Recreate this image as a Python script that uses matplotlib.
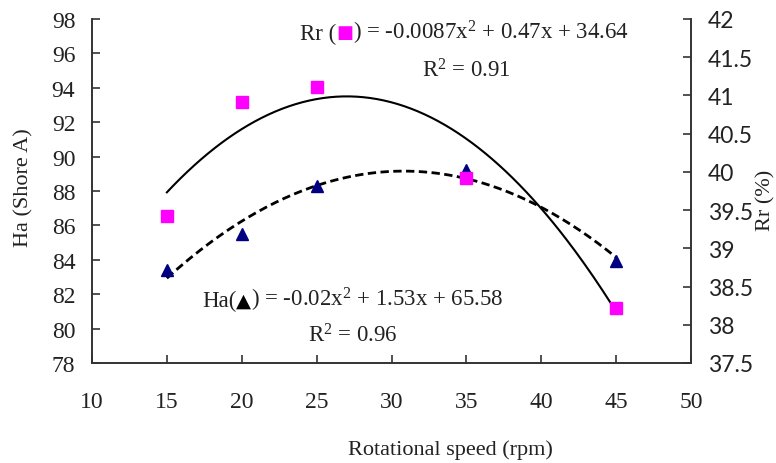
import numpy as np
import matplotlib
matplotlib.use("Agg")
import matplotlib.pyplot as plt
from matplotlib.transforms import offset_copy

# Rotational speed (rpm)
speed = [15, 20, 25, 35, 45]
# Hardness, Shore A (left axis)
ha = [83.4, 85.5, 88.3, 89.2, 83.95]
# Recovery ratio, % (right axis)
rr = [39.42, 40.91, 41.11, 39.92, 38.22]

# Quadratic trend for Rr as stated on the chart
rr_coef = [-0.0087, 0.47, 34.64]

xticks = [10, 15, 20, 25, 30, 35, 40, 45, 50]
ha_ticks = [78, 80, 82, 84, 86, 88, 90, 92, 94, 96, 98]
rr_ticks = [37.5, 38, 38.5, 39, 39.5, 40, 40.5, 41, 41.5, 42]
rr_ticklabels = ["37.5", "38", "38.5", "39", "39.5", "40", "40.5", "41", "41.5", "42"]

serif = ["Liberation Serif", "DejaVu Serif"]
plt.rcParams["font.family"] = serif
plt.rcParams["mathtext.fontset"] = "custom"
plt.rcParams["mathtext.rm"] = "Liberation Serif"
plt.rcParams["mathtext.it"] = "Liberation Serif:italic"
plt.rcParams["mathtext.bf"] = "Liberation Serif:bold"

TXT = "#222222"
W, H = 776, 464

fig = plt.figure(figsize=(W / 100, H / 100), dpi=100)
ax = fig.add_axes([92 / W, 1 - 364 / H, (691 - 92) / W, (364 - 20) / H])
ax2 = ax.twinx()

xs = np.linspace(15, 45, 200)

# Ha: fitted quadratic trend, dashed
ha_fit = np.polyfit(speed, ha, 2)
ax.plot(xs, np.polyval(ha_fit, xs), color="black", lw=2.0, ls=(0, (3.0, 1.6)), zorder=2)
ax.plot(speed, ha, ls="none", marker="^", ms=9, color="#000080", zorder=3)

# Rr: quadratic trend, solid
ax2.plot(xs, np.polyval(rr_coef, xs), color="black", lw=1.5, zorder=2)
ax2.plot(speed, rr, ls="none", marker="s", ms=9, color="#FF00FF", zorder=3)

ax.set_xlim(10, 50)
ax.set_ylim(78, 98)
ax2.set_ylim(37.5, 42)
ax.set_xticks(xticks)
ax.set_yticks(ha_ticks)
ax2.set_yticks(rr_ticks)
ax2.set_yticklabels(rr_ticklabels, family=["Lato", "DejaVu Sans"])

for a in (ax, ax2):
    a.spines["top"].set_visible(False)
    for s in a.spines.values():
        s.set_color("#333333")
        s.set_linewidth(1.2)

ax.tick_params(axis="x", direction="in", length=6, width=1.2, color="#333333",
               labelsize=17, pad=20, labelcolor=TXT)
ax.tick_params(axis="y", direction="in", length=6, width=1.2, color="#333333",
               labelsize=17, pad=12, labelcolor=TXT)
ax2.tick_params(axis="y", direction="in", length=6, width=1.2, color="#333333",
                labelsize=16.5, pad=12, labelcolor=TXT)

AW, AH = 691 - 92, 364 - 20
ax.set_xlabel("Rotational speed (rpm)", fontsize=16, color=TXT)
ax.xaxis.set_label_coords((450 - 92) / AW, -(440 - 364) / AH)
ax.set_ylabel("Ha (Shore A)", fontsize=16, color=TXT)
ax.yaxis.set_label_coords(-(92 - 33) / AW, (364 - 188) / AH)
ax2.set_ylabel("Rr (%)", fontsize=16, color=TXT)
ax2.yaxis.set_label_coords((756 - 92) / AW, (364 - 200) / AH)


def run_text(x, y, pieces):
    """Draw text pieces one after another on a line whose baseline starts at pixel (x, y)."""
    renderer = fig.canvas.get_renderer()
    dx = 0.0
    for s, kw, dy in pieces:
        tr = offset_copy(fig.transFigure, fig=fig, x=dx * 72 / fig.dpi,
                         y=dy * 72 / fig.dpi, units="points")
        t = fig.text(x / W, 1 - y / H, s, transform=tr, va="baseline", ha="left", **kw)
        dx += t.get_window_extent(renderer).width


fs = 16.5
base = dict(fontsize=fs, color=TXT)
run_text(300, 40, [
    ("Rr (", base, 0),
    ("\u25A0", dict(fontsize=13, color="#FF00FF", family=["DejaVu Sans"]), 2),
    (r") = -0.0087x$^{2}$ + 0.47x + 34.64", base, 0),
])
fig.text(466 / W, 1 - 77 / H, r"R$^{2}$ = 0.91", ha="center", va="baseline", **base)

run_text(202, 307, [
    ("Ha(", base, 0),
    ("\u25B2", dict(fontsize=14, color="black", family=["DejaVu Sans"]), 0),
    (r") = -0.02x$^{2}$ + 1.53x + 65.58", base, 0),
])
fig.text(353 / W, 1 - 343 / H, r"R$^{2}$ = 0.96", ha="center", va="baseline", **base)

fig.savefig("out.png", dpi=100)
